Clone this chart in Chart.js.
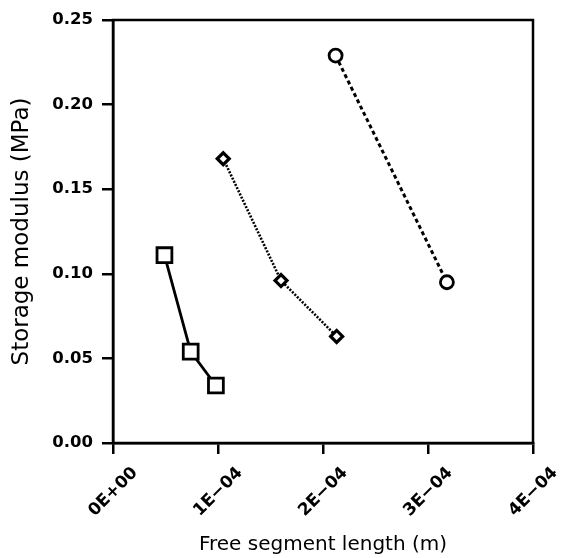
<!DOCTYPE html>
<html>
<head>
<meta charset="utf-8">
<script src="https://cdn.jsdelivr.net/npm/chart.js@4/dist/chart.umd.min.js"></script>
<style>
  html, body { margin: 0; padding: 0; background: #fff; }
  #wrap { width: 564px; height: 558px; }
</style>
</head>
<body>
<div id="wrap"><canvas id="modulusChart"></canvas></div>
<script>
// Values
const squareX = [4.9e-5, 7.4e-5, 9.8e-5];
const squareY = [0.111, 0.054, 0.034];
const diamondX = [1.05e-4, 1.6e-4, 2.13e-4];
const diamondY = [0.168, 0.096, 0.063];
const circleX = [2.12e-4, 3.18e-4];
const circleY = [0.229, 0.095];

const xTickLabels = ["0E+00", "1E\u221204", "2E\u221204", "3E\u221204", "4E\u221204"];
const yTickLabels = ["0.00", "0.05", "0.10", "0.15", "0.20", "0.25"];

function toPoints(xs, ys) {
  return xs.map((x, i) => ({ x: x, y: ys[i] }));
}

// Draw the closed frame (top and right edges)
const frameBox = {
  id: "frameBox",
  afterDatasetsDraw(chart) {
    const a = chart.chartArea;
    const ctx = chart.ctx;
    ctx.save();
    ctx.strokeStyle = "#000";
    ctx.lineWidth = 2.5;
    ctx.strokeRect(a.left, a.top, a.right - a.left, a.bottom - a.top);
    ctx.restore();
  },
};

Chart.defaults.font.family = "'DejaVu Sans', sans-serif";
Chart.defaults.color = "#000";

const ctx = document.getElementById("modulusChart");

window.modulusChart = new Chart(ctx, {
  type: "line",
  data: {
    datasets: [
      {
        data: toPoints(squareX, squareY),
        borderColor: "#000",
        backgroundColor: "#fff",
        borderWidth: 2.8,
        pointStyle: "rect",
        pointRadius: 10.5,
        pointBorderWidth: 2.8,
        tension: 0,
      },
      {
        data: toPoints(diamondX, diamondY),
        borderColor: "#000",
        backgroundColor: "#fff",
        borderWidth: 2.6,
        borderDash: [2, 1.5],
        pointStyle: "rectRot",
        pointRadius: 6,
        pointBorderWidth: 3.2,
        tension: 0,
      },
      {
        data: toPoints(circleX, circleY),
        borderColor: "#000",
        backgroundColor: "#fff",
        borderWidth: 3,
        borderDash: [4, 3],
        pointStyle: "circle",
        pointRadius: 6.5,
        pointBorderWidth: 2.8,
        tension: 0,
      },
    ],
  },
  options: {
    responsive: true,
    maintainAspectRatio: false,
    animation: false,
    layout: {
      padding: { left: 0, top: 20, right: 31, bottom: 0 },
    },
    plugins: {
      legend: { display: false },
      tooltip: { enabled: false },
    },
    scales: {
      x: {
        type: "linear",
        min: 0,
        max: 4e-4,
        afterFit: (s) => { s.height = 115; },
        border: { display: true, color: "#000", width: 2.5 },
        grid: {
          drawOnChartArea: false,
          drawTicks: true,
          tickLength: 11,
          color: "#000",
          lineWidth: 2.5,
        },
        ticks: {
          stepSize: 1e-4,
          minRotation: 45,
          maxRotation: 45,
          padding: 9,
          labelOffset: 22,
          font: { size: 17, weight: "bold" },
          callback: (value, index) => xTickLabels[index],
        },
        title: {
          display: true,
          text: "Free segment length (m)",
          font: { size: 20 },
          padding: { top: 0, bottom: 1 },
        },
      },
      y: {
        type: "linear",
        min: 0,
        max: 0.25,
        afterFit: (s) => { s.width = 113; },
        border: { display: true, color: "#000", width: 2.5 },
        grid: {
          drawOnChartArea: false,
          drawTicks: true,
          tickLength: 11,
          color: "#000",
          lineWidth: 2.5,
        },
        ticks: {
          stepSize: 0.05,
          padding: 9,
          font: { size: 16.5, weight: "bold" },
          callback: (value, index) => yTickLabels[index],
        },
        title: {
          display: true,
          text: "Storage modulus (MPa)",
          font: { size: 23 },
          padding: { top: 8, bottom: 0 },
        },
      },
    },
  },
  plugins: [frameBox],
});
</script>
</body>
</html>
